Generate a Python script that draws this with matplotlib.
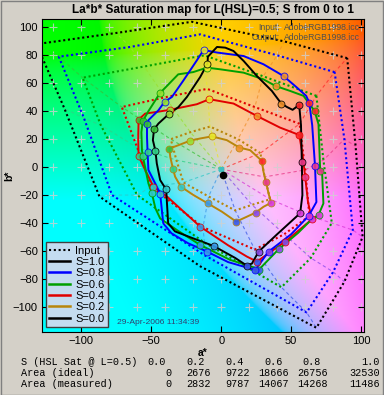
import numpy as np
import matplotlib
matplotlib.use('Agg')
import matplotlib.pyplot as plt
from matplotlib.lines import Line2D
from matplotlib.patches import Rectangle

plt.rcParams['font.family'] = ['Liberation Sans', 'DejaVu Sans']

# ---------------- data ----------------
hue_names = ['R', 'O', 'Y', 'Ch', 'G', 'Sp', 'C', 'Az', 'B', 'V', 'M', 'Ro']
hue_colors = ['#ff2828', '#f09028', '#e8e828', '#98e030', '#38c038', '#30d088',
              '#30c8c8', '#3898e8', '#3858e8', '#8848e8', '#d838d8', '#e83888']
center_ab = (0.0, -1.5)

# ideal (input) rings: 12 hue points each
ideal_a_10 = [90, 45, -21, -75, -132, -112, -87, -15, 68, 88, 101, 96]
ideal_b_10 = [78, 90, 104, 96, 88, 42, -21, -71, -115, -82, -50, 15]
ideal_a_08 = [81, 40, -15, -65, -116, -98, -78, -12, 61, 80, 94, 88]
ideal_b_08 = [68, 80, 95, 86, 79, 35, -20, -63, -104, -75, -45, 20]
ideal_a_06 = [68, 30, -12, -55, -99, -86, -60, -12, 43, 64, 79, 73]
ideal_b_06 = [51, 65, 80, 72, 64, 30, -20, -54, -86, -65, -40, 5]
ideal_a_04 = [56, 24, -10, -40, -71, -60, -50, -13, 24, 45, 63, 60]
ideal_b_04 = [31, 43, 56, 50, 43, 14, -14, -43, -59, -48, -35, -2]
ideal_a_02 = [28, 12, -8, -22, -36, -32, -27, -9, 10, 22, 35, 31]
ideal_b_02 = [10, 20, 29, 25, 20, 5, -11, -21, -31, -27, -23, -7]

# measured lines (traced paths)
meas_a_10 = [55.7, 51, 47, 42.9, 36.2, 25.5, 16, 8.8, 2.9, -3, -9.5, -9.8, -15, -24.5, -30.5,
             -37.6, -44.8, -48, -48.8, -47, -46, -43.6, -39.3, -37.9, -33, -20, -5.5, 10, 18.3,
             22, 26.7, 40, 56.4, 58, 57.6, 57, 55.7]
meas_b_10 = [44.5, 41, 43, 45.5, 54.5, 65.2, 76, 83.1, 85.5, 86, 79, 74, 64.5, 50.2, 43,
             37.8, 31.2, 27, 19.3, 11.7, 2.6, -9.3, -16, -40.2, -46, -51, -56.4, -65, -70.5,
             -69, -60.5, -48, -33, -20, 3.8, 30, 44.5]
meas_a_08 = [62.9, 60.7, 54, 44.5, 30.2, 16, -3, -12.6, -17.4, -27, -35.2, -40.5, -44.8, -52,
             -53, -53, -52.6, -52, -47, -43.6, -41.4, -35.5, -23.6, -10, 5, 24.3, 33.8, 50,
             62.4, 68, 67, 65, 62.9]
meas_b_08 = [46.2, 51, 57, 65.2, 73.6, 79.5, 82, 83.8, 76.4, 62, 50.2, 46.7, 40.7, 33.6,
             30.5, 21.6, 10.5, -2, -12, -19, -40.2, -47.4, -54.5, -60.5, -68, -73.6, -60.5, -48,
             -35, -25, 1, 30, 46.2]
meas_a_06 = [66.7, 58.8, 49.3, 39, 30.2, 16, -0.7, -10.2, -20, -30.7, -43.8, -52, -56, -57,
             -56.6, -56, -52, -49.5, -47, -43.6, -31.7, -15, 6.4, 25.5, 26.7, 41, 55, 64, 69.5,
             73, 72, 70.7, 69.5, 66.7]
meas_b_06 = [40.2, 51, 54.5, 58, 62.8, 67.6, 70, 71.2, 68, 66.4, 52.9, 40, 33, 25, 12, 7.9,
             -11.6, -18.8, -29.5, -36.7, -45, -55.7, -66.4, -72.4, -73.6, -58.8, -47, -38,
             -34.3, -26, -2, -2.6, 30.7, 40.2]
meas_a_04 = [55.7, 42, 25.5, 8.8, -8.4, -17.4, -27, -36.7, -46, -54.3, -59, -59.3, -59, -54.3,
             -48.4, -38.8, -15, 5, 18.3, 25.5, 45.7, 64.8, 62, 60, 58, 55.7]
meas_b_04 = [23, 28.3, 36.6, 45.5, 48.6, 45, 43, 41, 39.5, 38.3, 34, 20, 8, -2, -14, -21,
             -42.6, -56, -64, -67.6, -53.3, -37.4, -25, -7, 10, 23]
meas_a_02 = [29, 20.7, 13, 4, -6.7, -15, -22, -30.5, -37, -36.4, -34.5, -32.9, -28.8, -19.8,
             -9.5, 0.5, 10.7, 18.3, 24.5, 30.2, 35.7, 33.8, 32, 30.2, 29]
meas_b_02 = [4.5, 12.1, 14, 19.3, 22, 20.5, 19, 15.7, 13.3, 7.4, -1, -6.9, -14, -20, -26,
             -31.9, -39, -35.5, -32.6, -28.4, -25.5, -18.8, -10.5, -3.3, 4.5]
meas_ab_00 = (1.2, -5.7)

# measured hue-patch markers (12 per saturation)
mk_a_10 = [55.7, 42.9, -9.8, -37.6, -48, -47, -39.3, -5.5, 18.3, 26.7, 56.4, 57.6]
mk_b_10 = [44.5, 45.5, 74, 37.8, 27, 11.7, -16, -56.4, -70.5, -60.5, -33, 3.8]
mk_a_08 = [62.9, 44.5, -12.6, -40.5, -53, -52.6, -43.6, -10, 24.3, 33.8, 62.4, 67]
mk_b_08 = [46.2, 65.2, 83.8, 46.7, 30.5, 10.5, -19, -60.5, -73.6, -60.5, -35, 1]
mk_a_06 = [66.7, 39, -10.2, -43.8, -56, -56, -49.5, -15, 26.7, 41, 69.5, 70.7]
mk_b_06 = [40.2, 58, 71.2, 52.9, 33, 7.9, -18.8, -55.7, -73.6, -58.8, -34.3, -2.6]
mk_a_04 = [55.7, 25.5, -8.4, -36.7, -59, -59, -48.4, -15, 25.5, 45.7, 64.8, 60]
mk_b_04 = [23, 36.6, 48.6, 41, 34, 8, -14, -42.6, -67.6, -53.3, -37.4, -7]
mk_a_02 = [29, 13, -6.7, -22, -37, -34.5, -28.8, -9.5, 10.7, 24.5, 35.7, 32]
mk_b_02 = [4.5, 14, 22, 19, 13.3, -1, -14, -26, -39, -32.6, -25.5, -10.5]

sat_labels = ['S=1.0', 'S=0.8', 'S=0.6', 'S=0.4', 'S=0.2', 'S=0.0']
sat_colors = ['#000000', '#0000ff', '#00a000', '#e00000', '#b8860b', '#000000']

table_S = ['0.0', '0.2', '0.4', '0.6', '0.8', '1.0']
table_ideal = ['0', '2676', '9722', '18666', '26756', '32530']
table_meas = ['0', '2832', '9787', '14067', '14268', '11486']
input_profile = 'AdobeRGB1998.icc'
output_profile = 'AdobeRGB1998.icc'
timestamp = '29-Apr-2006 11:34:39'

# ---------------- figure ----------------
W, H = 384, 395
fig = plt.figure(figsize=(W / 100, H / 100), dpi=100)
fig.patch.set_facecolor('#d4d0c8')
ax = fig.add_axes([42 / W, 1 - 332 / H, 322 / W, 313 / H])
xlim = (-128, 102)
ylim = (-118, 106)

# Lab background at constant lightness
Lb = 85.0
ga = np.linspace(xlim[0], xlim[1], 360)
gb = np.linspace(ylim[0], ylim[1], 360)
A, Bm = np.meshgrid(ga, gb)
fy = (Lb + 16) / 116
fx = fy + A / 500
fz = fy - Bm / 200
def finv(t):
    return np.where(t > 6 / 29, t ** 3, 3 * (6 / 29) ** 2 * (t - 4 / 29))
X = 0.95047 * finv(fx)
Y = finv(fy) * np.ones_like(A)
Z = 1.08883 * finv(fz)
Mx = np.array([[3.2406, -1.5372, -0.4986], [-0.9689, 1.8758, 0.0415], [0.0557, -0.2040, 1.0570]])
rgb = np.stack([X, Y, Z], -1) @ Mx.T
rgb = np.clip(rgb, 0, 1)
rgb = np.where(rgb <= 0.0031308, 12.92 * rgb, 1.055 * rgb ** (1 / 2.4) - 0.055)
ax.imshow(rgb, extent=(xlim[0], xlim[1], ylim[0], ylim[1]), origin='lower',
          aspect='auto', interpolation='bilinear', zorder=0)

# '+' grid marks
gx, gy = np.meshgrid(np.arange(-120, 101, 20), np.arange(-100, 101, 20))
ax.plot(gx.ravel(), gy.ravel(), '+', color='#d0d0d0', ms=6, mew=0.8, alpha=0.8, zorder=1)

ideal_a = [ideal_a_10, ideal_a_08, ideal_a_06, ideal_a_04, ideal_a_02]
ideal_b = [ideal_b_10, ideal_b_08, ideal_b_06, ideal_b_04, ideal_b_02]

# radial hue lines through ideal points
for h in range(12):
    ra = [center_ab[0]] + [ideal_a[k][h] for k in range(4, -1, -1)]
    rb = [center_ab[1]] + [ideal_b[k][h] for k in range(4, -1, -1)]
    ax.plot(ra, rb, color=hue_colors[h], lw=0.8, ls=(0, (3, 2.5)), alpha=0.75, zorder=2)

# ideal rings (dotted)
for k in range(5):
    ax.plot(ideal_a[k] + [ideal_a[k][0]], ideal_b[k] + [ideal_b[k][0]],
            color=sat_colors[k], lw=1.5, ls=(0, (1, 1.3)), zorder=3)

meas_a = [meas_a_10, meas_a_08, meas_a_06, meas_a_04, meas_a_02]
meas_b = [meas_b_10, meas_b_08, meas_b_06, meas_b_04, meas_b_02]
mk_a = [mk_a_10, mk_a_08, mk_a_06, mk_a_04, mk_a_02]
mk_b = [mk_b_10, mk_b_08, mk_b_06, mk_b_04, mk_b_02]
for k in range(4, -1, -1):
    ax.plot(meas_a[k], meas_b[k], color=sat_colors[k], lw=1.4, zorder=4 + (4 - k) * 0.01)
for k in range(4, -1, -1):
    for h in range(12):
        ax.plot(mk_a[k][h], mk_b[k][h], 'o', ms=5, mfc=hue_colors[h], mec=sat_colors[k],
                mew=0.6, alpha=0.9, zorder=5)

ax.plot(center_ab[0], center_ab[1], 's', ms=3, color='#40c0c0', zorder=5)
ax.plot(meas_ab_00[0], meas_ab_00[1], 'o', ms=4.5, color='black', zorder=6)

ax.set_xlim(xlim)
ax.set_ylim(ylim)
ax.set_xticks([-100, -50, 0, 50, 100])
ax.set_yticks(np.arange(-100, 101, 20))
ax.tick_params(direction='in', length=4, width=0.8, top=True, right=True,
               labelsize=8, pad=3)
for s in ax.spines.values():
    s.set_linewidth(0.8)
ax.set_xlabel('a*', fontsize=7.5, fontweight='bold', labelpad=1)
ax.set_ylabel('b*', fontsize=7.5, fontweight='bold')
ax.yaxis.set_label_coords(-0.085, 0.5)

# legend
handles = [Line2D([], [], color='black', lw=1.5, ls=(0, (1, 1.3)))]
labels = ['Input']
for k in range(6):
    handles.append(Line2D([], [], color=sat_colors[k], lw=1.8))
    labels.append(sat_labels[k])
leg = ax.legend(handles, labels, loc='lower left', bbox_to_anchor=(0.012, 0.016),
                borderaxespad=0, fontsize=8, handlelength=1.9, handletextpad=0.45,
                labelspacing=0.12, borderpad=0.3, fancybox=False, framealpha=1,
                facecolor='#c4dcf0', edgecolor='#404040')
leg.get_frame().set_linewidth(1.0)
leg.set_zorder(10)

# annotations
fig.text(213 / W, 1 - 10 / H, 'La*b* Saturation map for L(HSL)=0.5; S from 0 to 1',
         ha='center', va='center', fontsize=8.5, fontweight='bold')
fig.text(280 / W, 1 - 28 / H, 'Input:', ha='right', va='center', fontsize=6.2, color='#505050')
fig.text(284 / W, 1 - 28 / H, input_profile, ha='left', va='center', fontsize=6.2, color='#505050')
fig.text(280 / W, 1 - 38 / H, 'Output:', ha='right', va='center', fontsize=6.2, color='#505050')
fig.text(284 / W, 1 - 38 / H, output_profile, ha='left', va='center', fontsize=6.2, color='#505050')
fig.text(117 / W, 1 - 323 / H, timestamp, ha='left', va='center', fontsize=6.1, color='#304070')

mono = ['Liberation Mono', 'DejaVu Sans Mono']
row_y = [362, 373, 384]
fig.text(21 / W, 1 - row_y[0] / H, 'S (HSL Sat @ L=0.5)', fontsize=7.3, family=mono, va='center')
fig.text(21 / W, 1 - row_y[1] / H, 'Area (ideal)', fontsize=7.3, family=mono, va='center')
fig.text(21 / W, 1 - row_y[2] / H, 'Area (measured)', fontsize=7.3, family=mono, va='center')
col_x = [171, 211, 250, 289, 328, 380]
s_x = [166, 205, 244, 283, 321, 380]
for i in range(6):
    fig.text(s_x[i] / W, 1 - row_y[0] / H, table_S[i], fontsize=7.3, family=mono, va='center', ha='right')
    fig.text(col_x[i] / W, 1 - row_y[1] / H, table_ideal[i], fontsize=7.3, family=mono, va='center', ha='right')
    fig.text(col_x[i] / W, 1 - row_y[2] / H, table_meas[i], fontsize=7.3, family=mono, va='center', ha='right')

fig.patches.append(Rectangle((0.5 / W, 0.5 / H), 1 - 1.5 / W, 1 - 1.5 / H, transform=fig.transFigure,
                             fill=False, edgecolor='#808080', lw=1.0))

fig.savefig('out.png', dpi=100, facecolor=fig.get_facecolor())
